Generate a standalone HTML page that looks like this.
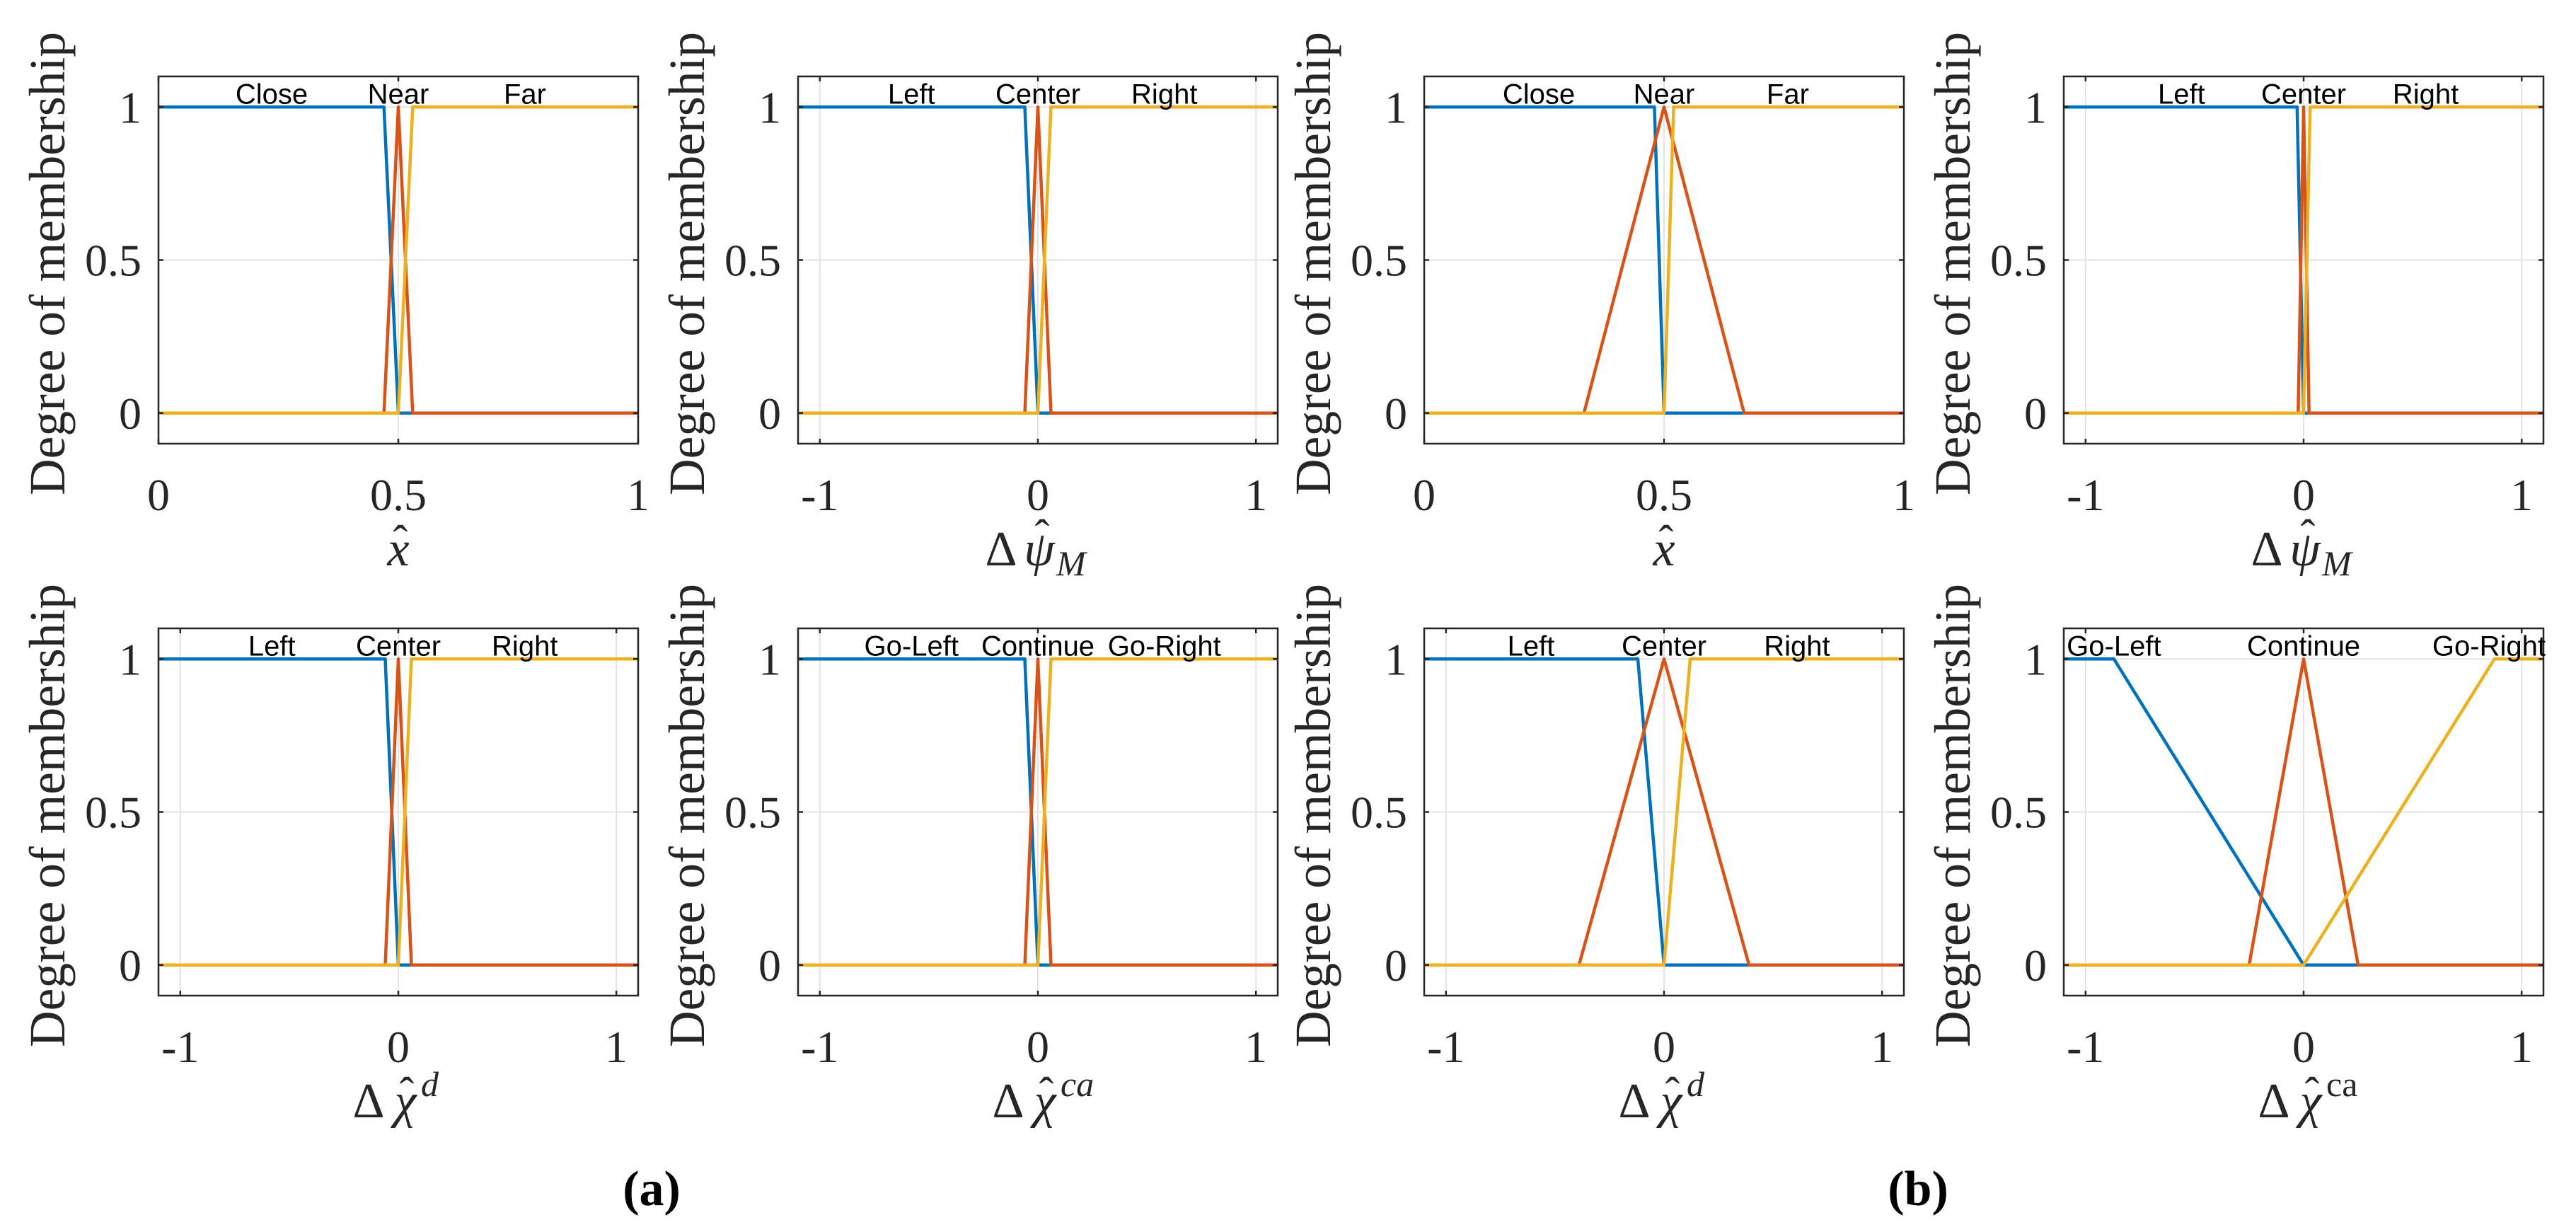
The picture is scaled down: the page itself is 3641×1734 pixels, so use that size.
<!DOCTYPE html>
<html><head><meta charset="utf-8">
<style>
html,body{margin:0;padding:0;background:#fff;}
svg{display:block;}
</style></head>
<body>
<svg id="fig" xmlns="http://www.w3.org/2000/svg" width="3641" height="1734" viewBox="0 0 3641 1734">
<rect x="0" y="0" width="3641" height="1734" fill="#fff"/>
<text x="921" y="1703" text-anchor="middle" font-family="Liberation Serif, serif" font-weight="bold" font-size="70">(a)</text>
<text x="2711" y="1703" text-anchor="middle" font-family="Liberation Serif, serif" font-weight="bold" font-size="70">(b)</text>
</svg>
<script>
// ---- data (top-level arrays) ----
const p1Blue = [[0,0.47,0.5,1],[1,1,0,0]];
const p1Red = [[0,0.47,0.5,0.53,1],[0,0,1,0,0]];
const p1Yellow = [[0,0.5,0.53,1],[0,0,1,1]];
const p1Labels = ["Close","Near","Far"];
const p1LabelX = [0.236,0.5,0.764];

const p2Blue = [[-1.1,-0.06,0,1.1],[1,1,0,0]];
const p2Red = [[-1.1,-0.06,0,0.06,1.1],[0,0,1,0,0]];
const p2Yellow = [[-1.1,0,0.06,1.1],[0,0,1,1]];
const p2Labels = ["Left","Center","Right"];
const p2LabelX = [-0.58,0,0.58];

const p3Blue = [[0,0.48,0.5,1],[1,1,0,0]];
const p3Red = [[0,0.333,0.5,0.667,1],[0,0,1,0,0]];
const p3Yellow = [[0,0.5,0.52,1],[0,0,1,1]];
const p3Labels = ["Close","Near","Far"];
const p3LabelX = [0.239,0.5,0.758];

const p4Blue = [[-1.1,-0.03,0,1.1],[1,1,0,0]];
const p4Red = [[-1.1,-0.025,0,0.025,1.1],[0,0,1,0,0]];
const p4Yellow = [[-1.1,0,0.03,1.1],[0,0,1,1]];
const p4Labels = ["Left","Center","Right"];
const p4LabelX = [-0.56,0,0.56];

const p5Blue = [[-1.1,-0.06,0,1.1],[1,1,0,0]];
const p5Red = [[-1.1,-0.06,0,0.06,1.1],[0,0,1,0,0]];
const p5Yellow = [[-1.1,0,0.06,1.1],[0,0,1,1]];
const p5Labels = ["Left","Center","Right"];
const p5LabelX = [-0.58,0,0.58];

const p6Blue = [[-1.1,-0.06,0,1.1],[1,1,0,0]];
const p6Red = [[-1.1,-0.06,0,0.06,1.1],[0,0,1,0,0]];
const p6Yellow = [[-1.1,0,0.06,1.1],[0,0,1,1]];
const p6Labels = ["Go-Left","Continue","Go-Right"];
const p6LabelX = [-0.58,0,0.58];

const p7Blue = [[-1.1,-0.12,0,1.1],[1,1,0,0]];
const p7Red = [[-1.1,-0.39,0,0.39,1.1],[0,0,1,0,0]];
const p7Yellow = [[-1.1,0,0.12,1.1],[0,0,1,1]];
const p7Labels = ["Left","Center","Right"];
const p7LabelX = [-0.61,0,0.61];

const p8Blue = [[-1.1,-0.87,0,1.1],[1,1,0,0]];
const p8Red = [[-1.1,-0.25,0,0.25,1.1],[0,0,1,0,0]];
const p8Yellow = [[-1.1,0,0.875,1.1],[0,0,1,1]];
const p8Labels = ["Go-Left","Continue","Go-Right"];
const p8LabelX = [-0.87,0,0.85];

const yTicks = [0,0.5,1];
const yTickLabels = ["0","0.5","1"];
const xTicksUnit = [0,0.5,1];
const xTickLabelsUnit = ["0","0.5","1"];
const xTicksSym = [-1,0,1];
const xTickLabelsSym = ["-1","0","1"];

const NS = "http://www.w3.org/2000/svg";
const svg = document.getElementById('fig');
const colLeft = [224,1128,2013,2917];
const rowTop = [108,888];
const W = 678, H = 519;

function mk(tag, attrs, parent){
  const e = document.createElementNS(NS, tag);
  for (const k in attrs) e.setAttribute(k, attrs[k]);
  (parent||svg).appendChild(e);
  return e;
}
function txt(parent, x, y, s, size, italic, anchor){
  const t = mk('text',{x:x,y:y,"text-anchor":anchor||"middle","font-family":"Liberation Serif, serif","font-size":size,fill:"#262626"},parent);
  if (italic) t.setAttribute('font-style','italic');
  t.textContent = s;
  return t;
}

const panels = [
 {c:0,r:0,dom:[0,1],s:[p1Blue,p1Red,p1Yellow],lab:p1Labels,lx:p1LabelX,xl:"x"},
 {c:1,r:0,dom:[-1.1,1.1],s:[p2Blue,p2Red,p2Yellow],lab:p2Labels,lx:p2LabelX,xl:"psi"},
 {c:2,r:0,dom:[0,1],s:[p3Blue,p3Red,p3Yellow],lab:p3Labels,lx:p3LabelX,xl:"x"},
 {c:3,r:0,dom:[-1.1,1.1],s:[p4Blue,p4Red,p4Yellow],lab:p4Labels,lx:p4LabelX,xl:"psi"},
 {c:0,r:1,dom:[-1.1,1.1],s:[p5Blue,p5Red,p5Yellow],lab:p5Labels,lx:p5LabelX,xl:"chid"},
 {c:1,r:1,dom:[-1.1,1.1],s:[p6Blue,p6Red,p6Yellow],lab:p6Labels,lx:p6LabelX,xl:"chica"},
 {c:2,r:1,dom:[-1.1,1.1],s:[p7Blue,p7Red,p7Yellow],lab:p7Labels,lx:p7LabelX,xl:"chid"},
 {c:3,r:1,dom:[-1.1,1.1],s:[p8Blue,p8Red,p8Yellow],lab:p8Labels,lx:p8LabelX,xl:"chica2"}
];
const colors = ["#0072BD","#D95319","#EDB120"];
const sNames = ["low-set-line","mid-set-line","high-set-line"];

panels.forEach((p,i)=>{
  const L = colLeft[p.c], T = rowTop[p.r];
  const xs = v => L + (v - p.dom[0])/(p.dom[1]-p.dom[0])*W;
  const ys = v => T + H - (v + 0.1)/1.2*H;
  const g = mk('g',{});
  
  
  const unit = p.dom[0] === 0;
  const xt = unit ? xTicksUnit : xTicksSym;
  const xtl = unit ? xTickLabelsUnit : xTickLabelsSym;
  xt.forEach(v=>{
    const l = mk('line',{x1:xs(v),x2:xs(v),y1:T,y2:T+H,stroke:"#e3e3e3","stroke-width":2},g);
    
    
  });
  yTicks.forEach(v=>{
    const l = mk('line',{x1:L,x2:L+W,y1:ys(v),y2:ys(v),stroke:"#e3e3e3","stroke-width":2},g);
    
    
  });
  const cid = 'clip'+i;
  const cp = mk('clipPath',{id:cid},g);
  mk('rect',{x:L,y:T,width:W,height:H},cp);
  p.s.forEach((ser,k)=>{
    const pts = ser[0].map((x,j)=>xs(x).toFixed(1)+','+ys(ser[1][j]).toFixed(1)).join(' ');
    const pl = mk('polyline',{points:pts,fill:"none",stroke:colors[k],"stroke-width":4.5,"stroke-linejoin":"round","clip-path":"url(#"+cid+")"},g);
    
    
  });
  const bx = mk('rect',{x:L,y:T,width:W,height:H,fill:"none",stroke:"#262626","stroke-width":2.5},g);
  
  
  xt.forEach((v,j)=>{
    mk('line',{x1:xs(v),x2:xs(v),y1:T+H,y2:T+H-7,stroke:"#262626","stroke-width":2.5},g);
    mk('line',{x1:xs(v),x2:xs(v),y1:T,y2:T+7,stroke:"#262626","stroke-width":2.5},g);
    const t = txt(g, xs(v), T+H+94, xtl[j], 64, false);
    
    
  });
  yTicks.forEach((v,j)=>{
    mk('line',{x1:L,x2:L+7,y1:ys(v),y2:ys(v),stroke:"#262626","stroke-width":2.5},g);
    mk('line',{x1:L+W,x2:L+W-7,y1:ys(v),y2:ys(v),stroke:"#262626","stroke-width":2.5},g);
    const t = txt(g, L-24, ys(v)+22, yTickLabels[j], 64, false, "end");
    
    
  });
  p.lab.forEach((s,j)=>{
    const t = mk('text',{x:xs(p.lx[j]),y:ys(1)-5,"text-anchor":"middle","font-family":"Liberation Sans, sans-serif","font-size":40,fill:"#000"},g);
    t.textContent = s;
    
    
  });
  const cy = T + H/2 + 5;
  const yl = mk('text',{x:0,y:0,transform:"translate("+(L-133)+","+cy+") rotate(-90)","text-anchor":"middle","font-family":"Liberation Serif, serif","font-size":72,fill:"#262626",textLength:655,lengthAdjust:"spacingAndGlyphs"},g);
  yl.textContent = "Degree of membership";
  
  

  const cx = L + W/2, by = T + H + 172;
  const xg = mk('g',{},g);
  
  
  if (p.xl === "x") {
    txt(xg, cx, by, "x", 70, true);
    txt(xg, cx+3, by-14, "ˆ", 62, false);
  } else if (p.xl === "psi") {
    txt(xg, cx-52, by, "Δ", 70, false);
    txt(xg, cx+2, by, "ψ", 70, true);
    txt(xg, cx+6, by-22, "ˆ", 62, false);
    txt(xg, cx+26, by+14, "M", 50, true, "start");
  } else {
    const sup = p.xl === "chid" ? "d" : "ca";
    const it = p.xl !== "chica2";
    txt(xg, cx-42, by, "Δ", 70, false);
    txt(xg, cx+10, by, "χ", 70, true);
    txt(xg, cx+12, by-14, "ˆ", 62, false);
    txt(xg, cx+32, by-30, sup, 50, it, "start");
  }
});
</script>
</body></html>
